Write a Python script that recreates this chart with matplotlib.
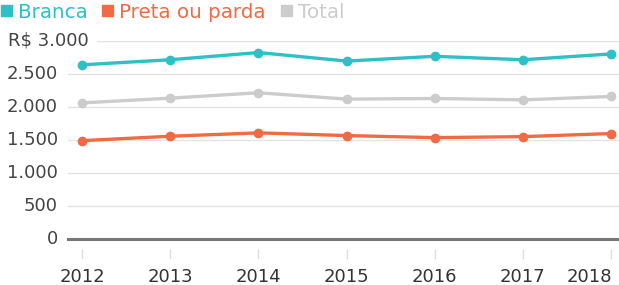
import matplotlib
matplotlib.use("Agg")
import matplotlib.pyplot as plt
from matplotlib.patches import Rectangle

plt.rcParams['font.family'] = ['DejaVu Sans']

# Data (renda média, R$)
years = [2012, 2013, 2014, 2015, 2016, 2017, 2018]
branca = [2639, 2716, 2825, 2696, 2768, 2716, 2804]
preta_parda = [1490, 1557, 1608, 1567, 1536, 1551, 1598]
total = [2062, 2134, 2216, 2119, 2129, 2108, 2160]

series_names = ["Branca", "Preta ou parda", "Total"]
series_colors = ["#2DC1C6", "#EF6B45", "#CCCCCC"]
y_ticks = [0, 500, 1000, 1500, 2000, 2500, 3000]
y_labels = ["0", "500", "1.000", "1.500", "2.000", "2.500", "R$ 3.000"]

W, H = 619, 285
fig = plt.figure(figsize=(W / 100, H / 100), dpi=100)
ax = fig.add_axes([68 / W, 1 - 239 / H, (W - 68) / W, (239 - 41) / H])

ax.set_xlim(2011.84, 2018.09)
ax.set_ylim(0, 3000)

for s in ax.spines.values():
    s.set_visible(False)
ax.set_xticks([])
ax.set_yticks([])

# gridlines (start after the tick label)
for v, lab in zip(y_ticks, y_labels):
    if v == 0:
        ax.axhline(0, color="#777777", lw=2.2, zorder=1, clip_on=False)
        continue
    xmin = (97 - 68) / (W - 68) if lab.startswith("R$") else 0
    ax.axhline(v, xmin=xmin, color="#E3E3E3", lw=1, zorder=0)

# y labels
for v, lab in zip(y_ticks, y_labels):
    if lab.startswith("R$"):
        ax.text(-60 / (W - 68), v, lab, transform=ax.get_yaxis_transform(),
                ha="left", va="center", fontsize=13, color="#444444")
    else:
        ax.text(-10 / (W - 68), v, lab, transform=ax.get_yaxis_transform(),
                ha="right", va="center", fontsize=13, color="#444444")

# x ticks and labels
trans = ax.get_xaxis_transform()
for i, yr in enumerate(years):
    ax.plot([yr, yr], [-11 / 198, -19 / 198], color="#DDDDDD", lw=1,
            transform=trans, clip_on=False)
    ha = "right" if i == len(years) - 1 else "center"
    ax.text(yr + (0.01 if ha == "right" else 0), -38 / 198, str(yr), transform=trans,
            ha=ha, va="center", fontsize=13, color="#333333")

# lines
for vals, c in zip([branca, preta_parda, total], series_colors):
    ax.plot(years, vals, color=c, lw=2.4, marker="o", markersize=6,
            zorder=3, clip_on=False)

# legend at the top
legend_x = [1, 102, 281]
for x0, name, c in zip(legend_x, series_names, series_colors):
    fig.patches.append(Rectangle((x0 / W, 1 - 16 / H), 11 / W, 11 / H,
                                 transform=fig.transFigure, color=c))
    fig.text((x0 + 17) / W, 1 - 18 / H, name, ha="left", va="baseline",
             fontsize=14.3, color=c)

fig.savefig("out.png", dpi=100)
